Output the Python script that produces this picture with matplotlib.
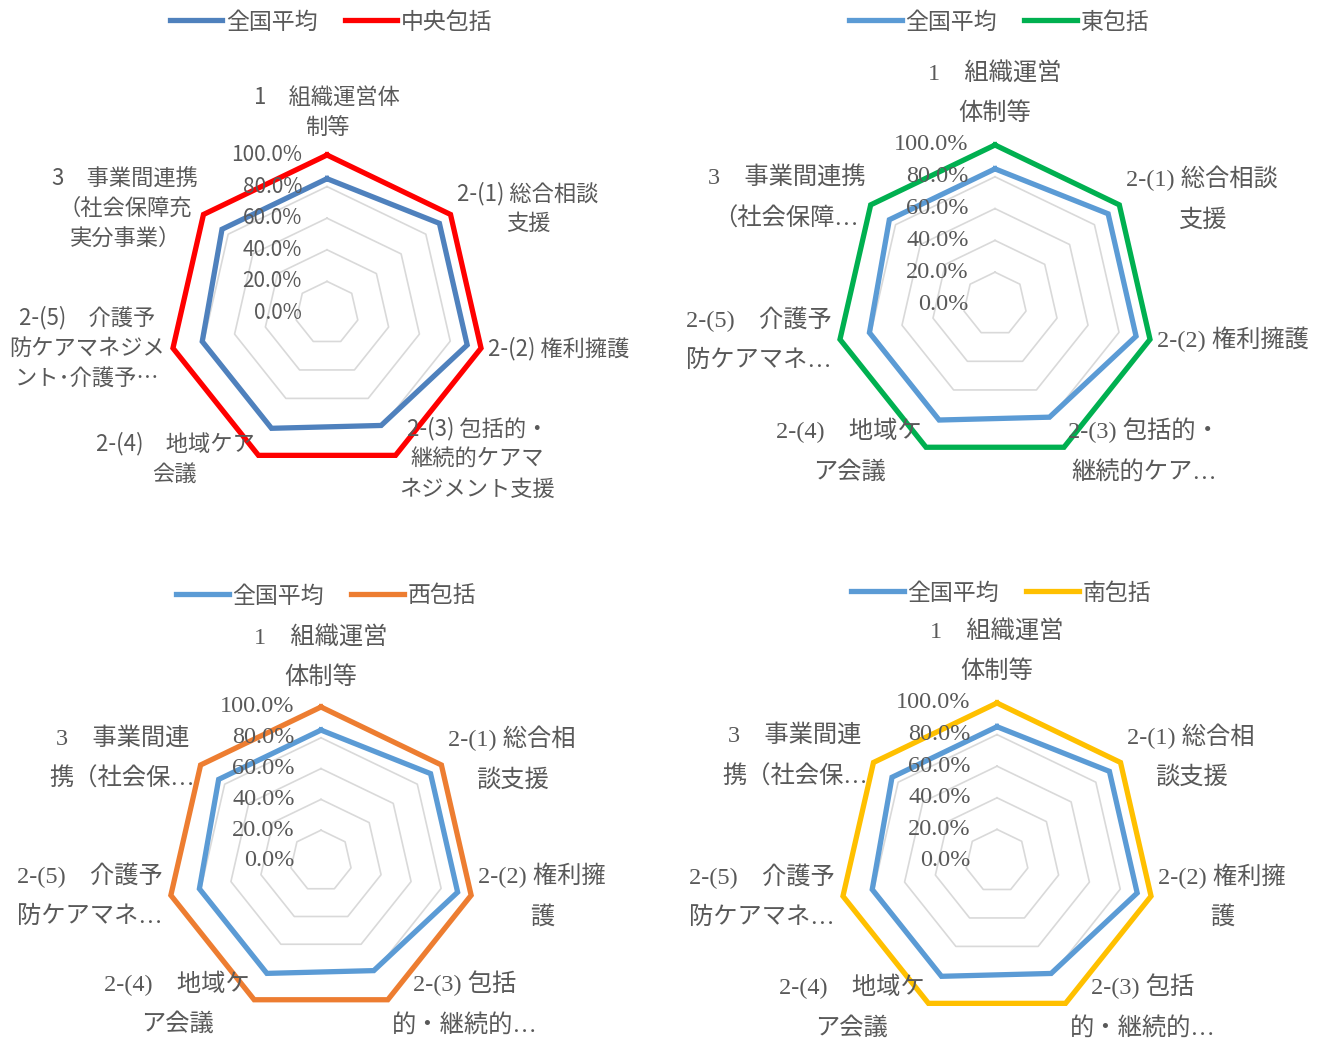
import numpy as np
import matplotlib.pyplot as plt
from matplotlib.lines import Line2D

# --- data -----------------------------------------------------------------
NATIONAL = [0.85, 0.91, 0.91, 0.79, 0.81, 0.81, 0.85]   # 全国平均
CENTRAL = [1.0, 1.0, 1.0, 1.0, 1.0, 1.0, 1.0]           # 中央包括
EAST = [1.0, 1.0, 1.0, 1.0, 1.0, 1.0, 1.0]              # 東包括
WEST = [1.0, 1.0, 1.0, 1.0, 1.0, 1.0, 1.0]              # 西包括
SOUTH = [1.0, 1.0, 1.0, 1.0, 1.0, 1.0, 1.0]             # 南包括

TICKS = [0.0, 0.2, 0.4, 0.6, 0.8, 1.0]

LABELS_CENTRAL = ["1　組織運営体\n制等", "2-(1) 総合相談\n支援", "2-(2) 権利擁護",
                  "2-(3) 包括的・\n継続的ケアマ\nネジメント支援", "2-(4)　地域ケア\n会議",
                  "2-(5)　介護予\n防ケアマネジメ\nント･介護予…",
                  "3　事業間連携\n（社会保障充\n実分事業）"]
LABELS_EAST = ["1　組織運営\n体制等", "2-(1) 総合相談\n支援", "2-(2) 権利擁護",
               "2-(3) 包括的・\n継続的ケア…", "2-(4)　地域ケ\nア会議",
               "2-(5)　介護予\n防ケアマネ…", "3　事業間連携\n（社会保障…"]
LABELS_WEST = ["1　組織運営\n体制等", "2-(1) 総合相\n談支援", "2-(2) 権利擁\n護",
               "2-(3) 包括\n的・継続的…", "2-(4)　地域ケ\nア会議",
               "2-(5)　介護予\n防ケアマネ…", "3　事業間連\n携（社会保…"]
LABELS_SOUTH = ["1　組織運営\n体制等", "2-(1) 総合相\n談支援", "2-(2) 権利擁\n護",
                "2-(3) 包括\n的・継続的…", "2-(4)　地域ケ\nア会議",
                "2-(5)　介護予\n防ケアマネ…", "3　事業間連\n携（社会保…"]

NATIONAL_NAME = "全国平均"

SANS = ["Noto Sans CJK JP", "DejaVu Sans"]
SERIF = ["Liberation Serif", "Noto Sans CJK JP"]
TEXT = "#595959"
GRID = "#D9D9D9"

PANELS = [
    dict(values=CENTRAL, name="中央包括", color="#FF0000", base="#4F81BD",
         labels=LABELS_CENTRAL, center=(327, 313), radius=158,
         box=(0, 0, 666, 520), legend=(331, 22), family=SANS,
         fs=16, tfs=15, lfs=16.5, top_dy=30, tick_dx=18, lsp=1.4),
    dict(values=EAST, name="東包括", color="#00B050", base="#5B9BD5",
         labels=LABELS_EAST, center=(995, 304), radius=159,
         box=(666, 0, 1333, 520), legend=(999, 22), family=SERIF,
         fs=17.5, tfs=17.5, lfs=16.5, top_dy=37, tick_dx=19, lsp=2.0),
    dict(values=WEST, name="西包括", color="#ED7D31", base="#5B9BD5",
         labels=LABELS_WEST, center=(321, 861), radius=154,
         box=(0, 520, 666, 1039), legend=(326, 596), family=SERIF,
         fs=17.5, tfs=17.5, lfs=16.5, top_dy=36, tick_dx=19, lsp=2.0),
    dict(values=SOUTH, name="南包括", color="#FFC000", base="#5B9BD5",
         labels=LABELS_SOUTH, center=(997, 861), radius=158,
         box=(666, 520, 1333, 1039), legend=(1001, 593), family=SERIF,
         fs=17.5, tfs=17.5, lfs=16.5, top_dy=37, tick_dx=19, lsp=2.0),
]

# label placement around the outer ring: (ha, dx pt, dy pt)
LABEL_POS = [("center", 0, None), ("left", 5, 4.5), ("left", 5, 0), ("left", 3, -2.5),
             ("right", -3, -2.5), ("right", -6, 0), ("right", -4, 4.5)]

W, H = 1333, 1039
fig = plt.figure(figsize=(W / 100, H / 100), dpi=100)

n = len(NATIONAL)
theta = 2 * np.pi * np.arange(n) / n


def ring(values):
    v = np.asarray(values, dtype=float)
    x = v * np.sin(theta)
    y = v * np.cos(theta)
    return np.append(x, x[0]), np.append(y, y[0])


for p in PANELS:
    x0, y0, x1, y1 = p["box"]
    cx, cy = p["center"]
    R = p["radius"]
    ax = fig.add_axes([x0 / W, 1 - y1 / H, (x1 - x0) / W, (y1 - y0) / H])
    ax.set_xlim((x0 - cx) / R, (x1 - cx) / R)
    ax.set_ylim((cy - y1) / R, (cy - y0) / R)
    ax.axis("off")

    # grid rings
    for t in TICKS[1:]:
        gx, gy = ring([t] * n)
        ax.plot(gx, gy, color=GRID, lw=1.2, zorder=1)

    bx, by = ring(NATIONAL)
    ax.plot(bx, by, color=p["base"], lw=3.8, zorder=2, solid_joinstyle="miter")
    rx, ry = ring(p["values"])
    ax.plot(rx, ry, color=p["color"], lw=3.8, zorder=3, solid_joinstyle="miter")

    # radial tick labels
    for t in TICKS:
        ax.annotate(f"{t:.1%}", xy=(0, t), xytext=(-p["tick_dx"], 0),
                    textcoords="offset points", ha="right", va="center",
                    fontsize=p["tfs"], color=TEXT, family=p["family"], zorder=4)

    # category labels
    for k, lab in enumerate(p["labels"]):
        ha, dx, dy = LABEL_POS[k]
        if dy is None:
            dy = p["top_dy"]
        ax.annotate(lab, xy=(np.sin(theta[k]), np.cos(theta[k])), xytext=(dx, dy),
                    textcoords="offset points", ha=ha, va="center",
                    multialignment="center", linespacing=p["lsp"],
                    fontsize=p["fs"], color=TEXT, family=p["family"], zorder=4)

    handles = [Line2D([], [], color=p["base"], lw=3.8),
               Line2D([], [], color=p["color"], lw=3.8)]
    lx, ly = p["legend"]
    ax.legend(handles, [NATIONAL_NAME, p["name"]], loc="center",
              bbox_to_anchor=((lx - cx) / R, (cy - ly) / R),
              bbox_transform=ax.transData, ncol=2, frameon=False,
              handlelength=2.3, handletextpad=0.15, columnspacing=1.2,
              labelcolor=TEXT, prop=dict(family=SANS, size=p["lfs"]))

fig.savefig("out.png", dpi=100)
